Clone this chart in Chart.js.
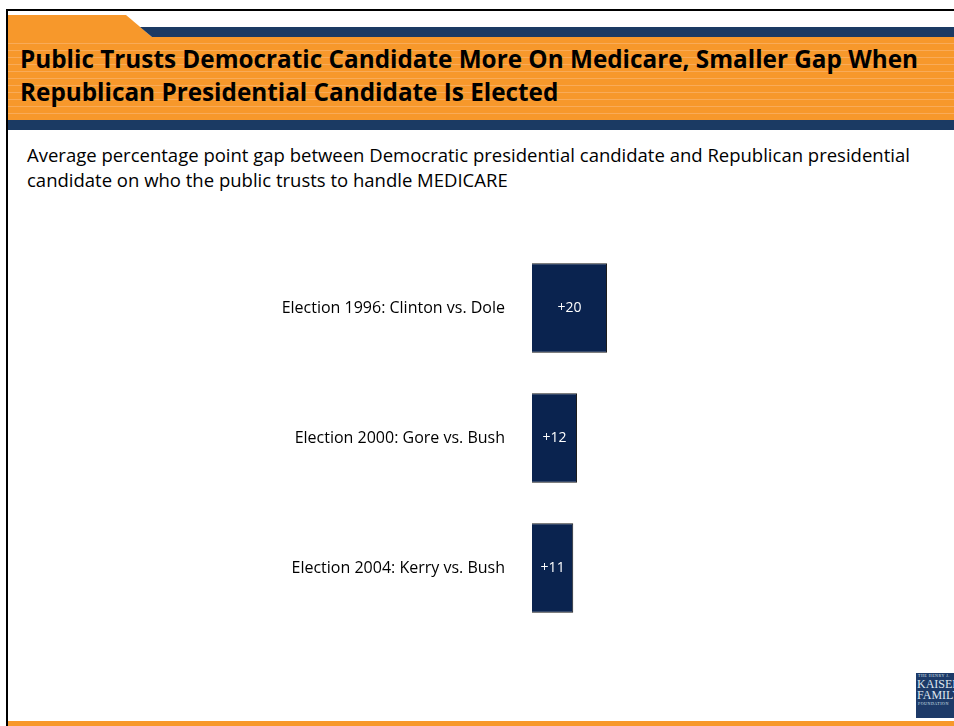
<!DOCTYPE html>
<html>
<head>
<meta charset="utf-8">
<title>Medicare trust gap</title>
<script src="https://cdn.jsdelivr.net/npm/chart.js@4"></script>
<style>
  html, body { margin: 0; padding: 0; background: #fff; }
  body { width: 954px; height: 726px; position: relative; overflow: hidden; font-family: "Open Sans", sans-serif; }
  .frame-top { position: absolute; left: 6px; top: 9px; width: 948px; height: 2px; background: #000; }
  .frame-left { position: absolute; left: 6px; top: 9px; width: 2px; height: 717px; background: #000; }
  .tab { position: absolute; left: 8px; top: 15px; width: 150px; height: 23px; background: #f7982b;
         clip-path: polygon(0 0, 118px 0, 144px 22px, 0 22px); }
  .band-top { position: absolute; left: 140px; top: 27px; width: 814px; height: 10px; background: #1b3a63;
              clip-path: polygon(0 0, 100% 0, 100% 100%, 12px 100%); }
  .header { position: absolute; left: 8px; top: 37px; width: 946px; height: 83px;
            background: repeating-linear-gradient(180deg, #f7982b 0px, #f7982b 6px, #f9ab58 6px, #f9ab58 7px); }
  .band-bottom { position: absolute; left: 8px; top: 120px; width: 946px; height: 10px; background: #1b3a63; }
  .title { position: absolute; left: 20px; top: 42px; font-weight: bold; font-size: 24.3px; line-height: 33px; color: #000; white-space: nowrap; }
  .subtitle { position: absolute; left: 27px; top: 142px; font-size: 18.5px; line-height: 25px; color: #000; white-space: nowrap; }
  .bottom-bar { position: absolute; left: 8px; top: 721px; width: 946px; height: 5px; background: #f7982b; }
  .logo { position: absolute; left: 916px; top: 673px; width: 46px; height: 45px; background: #1d3a68; color: #dfe6ef;
          font-family: "Liberation Serif", serif; overflow: hidden; }
  .logo .small { font-size: 4px; line-height: 6px; padding-left: 2px; letter-spacing: 0.5px; }
  .logo .big { font-size: 12px; line-height: 11px; padding-left: 1px; }
  #chart { position: absolute; left: 0; top: 0; }
</style>
</head>
<body>
<div class="frame-top"></div>
<div class="frame-left"></div>
<div class="tab"></div>
<div class="band-top"></div>
<div class="header"></div>
<div class="band-bottom"></div>
<div class="title">Public Trusts Democratic Candidate More On Medicare, Smaller Gap When<br>Republican Presidential Candidate Is Elected</div>
<div class="subtitle">Average percentage point gap between Democratic presidential candidate and Republican presidential<br>candidate on who the public trusts to handle MEDICARE</div>
<canvas id="chart" width="954" height="726"></canvas>
<div class="logo"><div class="small">THE HENRY J.</div><div class="big">KAISER</div><div class="big">FAMILY</div><div class="small">FOUNDATION</div></div>
<div class="bottom-bar"></div>

<script>
// Elections compared and the Democratic lead on Medicare trust
const elections = [
    "Election 1996: Clinton vs. Dole",
    "Election 2000: Gore vs. Bush",
    "Election 2004: Kerry vs. Bush"
];
const gapPoints = [20, 12, 11];

// value text written in the middle of each bar
const barLabels = {
    id: "barLabels",
    afterDatasetsDraw(chart) {
        const ctx = chart.ctx;
        const meta = chart.getDatasetMeta(0);
        ctx.save();
        ctx.fillStyle = "#ffffff";
        ctx.font = "14px 'Open Sans', sans-serif";
        ctx.textAlign = "center";
        ctx.textBaseline = "middle";
        meta.data.forEach((bar, i) => {
            const v = chart.data.datasets[0].data[i];
            const cx = (bar.x + bar.base) / 2;
            ctx.fillText("+" + v, cx, bar.y);
        });
        ctx.restore();
    }
};

document.addEventListener("DOMContentLoaded", function () {
    new Chart(document.getElementById("chart"), {
        type: "bar",
        data: {
            labels: elections,
            datasets: [{
                data: gapPoints,
                backgroundColor: "#0a234f",
                borderColor: "#1c1c1c",
                borderWidth: 1,
                categoryPercentage: 1,
                barPercentage: 0.69
            }]
        },
        options: {
            indexAxis: "y",
            responsive: false,
            animation: false,
            layout: { padding: { top: 243, bottom: 93, right: 47, left: 0 } },
            plugins: {
                legend: { display: false },
                tooltip: { enabled: false }
            },
            scales: {
                x: {
                    display: false,
                    min: 0,
                    max: 100
                },
                y: {
                    afterFit(axis) { axis.width = 532; },
                    grid: { display: false, drawTicks: false },
                    border: { display: false },
                    ticks: {
                        padding: 27,
                        color: "#000",
                        font: { family: "'Open Sans', sans-serif", size: 16 }
                    }
                }
            }
        },
        plugins: [barLabels]
    });
});
</script>
</body>
</html>
